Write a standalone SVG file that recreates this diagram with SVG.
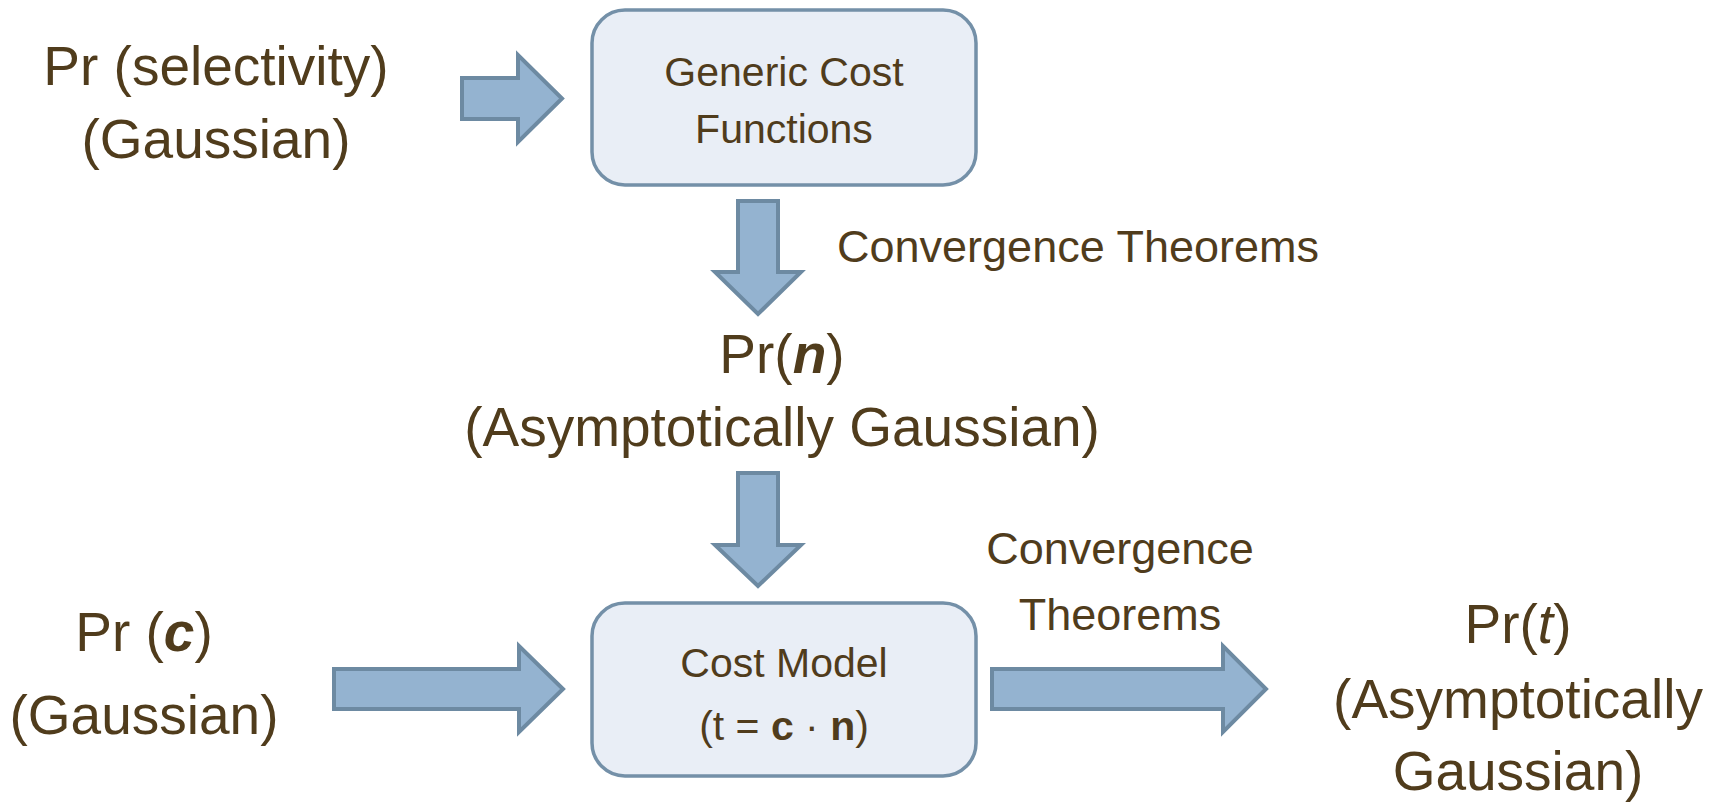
<svg xmlns="http://www.w3.org/2000/svg" width="1731" height="805" viewBox="0 0 1731 805">
<style>
.t{font-family:"Liberation Sans",Arial,sans-serif;fill:#503C1C;text-anchor:middle}
.big{font-size:55px}
.mid{font-size:45px}
.box{font-size:41px}
.arr{fill:#94B3D0;stroke:#6D8AA2;stroke-width:4;stroke-linejoin:miter}
.node{fill:#E9EEF6;stroke:#7490A8;stroke-width:3.5}
</style>
<rect width="1731" height="805" fill="#FFFFFF"/>
<g id="connectors">
<polygon class="arr" points="462,78 518,78 518,55 562,98.5 518,142 518,119 462,119"/>
<polygon class="arr" points="738,201 778,201 778,272 801,272 758,314 715,272 738,272"/>
<polygon class="arr" points="738,473 778,473 778,545 801,545 758,586 715,545 738,545"/>
<polygon class="arr" points="334,669 519,669 519,646 563,689 519,732 519,709 334,709"/>
<polygon class="arr" points="992,669 1223,669 1223,646 1266,689 1223,732 1223,709 992,709"/>
<text class="t mid" x="1078" y="262">Convergence Theorems</text>
<text class="t mid" x="1120" y="564">Convergence</text>
<text class="t mid" x="1120" y="630">Theorems</text>
</g>
<g id="selectivity">
<text class="t big" x="216" y="85">Pr (selectivity)</text>
<text class="t big" x="216" y="158">(Gaussian)</text>
</g>
<g id="generic-cost">
<rect class="node" x="592" y="10" width="384" height="175" rx="33"/>
<text class="t box" x="784" y="86">Generic Cost</text>
<text class="t box" x="784" y="143">Functions</text>
</g>
<g id="pr-n">
<text class="t big" x="782" y="373">Pr(<tspan font-weight="bold" font-style="italic">n</tspan>)</text>
<text class="t big" x="782" y="446">(Asymptotically Gaussian)</text>
</g>
<g id="pr-c">
<text class="t big" x="144" y="651">Pr (<tspan font-weight="bold" font-style="italic">c</tspan>)</text>
<text class="t big" x="144" y="734">(Gaussian)</text>
</g>
<g id="cost-model">
<rect class="node" x="592" y="603" width="384" height="173" rx="33"/>
<text class="t box" x="784" y="677">Cost Model</text>
<text class="t box" x="784" y="740">(t = <tspan font-weight="bold">c</tspan> · <tspan font-weight="bold">n</tspan>)</text>
</g>
<g id="pr-t">
<text class="t big" x="1518" y="643">Pr(<tspan font-style="italic">t</tspan>)</text>
<text class="t big" x="1518" y="718">(Asymptotically</text>
<text class="t big" x="1518" y="790">Gaussian)</text>
</g>
</svg>
